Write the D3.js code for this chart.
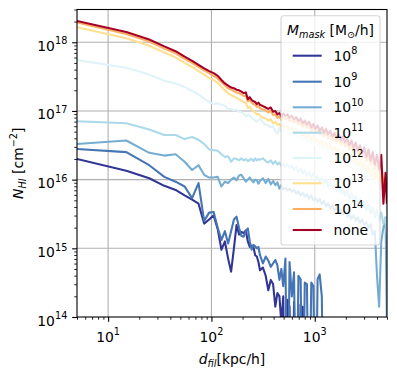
<!DOCTYPE html>
<html>
<head>
<meta charset="utf-8">
<script src="https://cdn.jsdelivr.net/npm/d3@7"></script>
<style>
body{margin:0;background:#fff;}
svg{display:block;font-family:"DejaVu Sans",sans-serif;}
</style>
</head>
<body>
<div id="chart"></div>
<script>
// distance to filament bins [kpc/h]
var dist = [5,15,25,35,45,55,65,75,85,95,105,115,125,135,145,155,165,175,185,195,
    205,215,225,235,245,255,265,275,285,295,
    315,335,355,375,395,415,435,455,475,495,
    520,545,570,600,630,660,695,730,765,800,840,880,925,970,1015,1065,1115,1170,1225,1285,
    1345,1410,1480,1550,1625,1705,1790,1875,1965,2060,2160,2265,2375,2490,2610,2735,2870,3010,
    3155,3310,3470,3640,3815,4000,4195,4400,4615,4840,4995];

// log10 N_HI [cm^-2] for each mask mass, null = empty bin
var nh8 = [16.30,16.13,16.02,15.91,15.85,15.77,15.71,15.65,15.36,15.42,15.48,15.28,14.98,15.10,14.85,14.66,15.00,15.34,15.20,15.24,
    15.22,15.26,15.10,15.02,15.04,15.02,14.90,14.88,14.80,14.68,
    14.72,14.60,14.39,14.54,14.48,14.15,14.35,14.30,13.90,14.30,
    null,14.25,14.15,null,14.22,null,14.18,null,14.15,null];
var nh9 = [16.445,16.40,16.21,16.04,15.97,15.90,15.73,15.95,15.40,15.52,15.53,15.30,15.12,15.25,15.07,15.25,15.42,15.46,15.30,15.18,
    15.17,15.25,15.29,15.10,14.98,15.05,15.03,15.00,15.02,14.90,
    14.78,14.88,14.82,14.73,14.78,14.83,14.75,14.54,14.70,14.45,
    14.85,null,14.80,14.30,14.65,null,14.60,14.55,null,14.50,14.48,null,14.50,14.45,null,14.55,14.62,14.30,null];
var nh10 = [16.52,16.57,16.39,16.35,16.37,16.26,16.14,16.21,16.07,16.03,16.03,16.04,15.90,15.97,15.95,16.00,16.03,15.99,16.06,16.07,
    16.02,15.97,16.00,16.03,15.99,15.96,16.00,15.99,15.94,15.98,
    16.02,15.95,16.01,15.93,15.98,15.92,15.96,15.87,15.92,15.86,
    15.88,15.84,15.87,15.82,15.85,15.80,15.83,15.77,15.81,15.75,15.79,15.72,15.77,15.70,15.74,15.67,15.72,15.64,15.69,15.61,
    15.66,15.58,15.63,15.55,15.60,15.52,15.57,15.49,15.54,15.46,15.51,15.43,15.48,15.40,15.45,15.37,15.42,15.34,
    15.38,15.30,15.35,15.20,15.25,14.60,14.15,15.10,15.30,15.45,13.80];
var nh11 = [16.85,16.82,16.73,16.65,16.65,16.59,16.62,16.58,16.52,16.44,16.43,16.42,16.37,16.33,16.34,16.26,16.31,16.30,16.28,16.31,
    16.28,16.30,16.27,16.29,16.30,16.27,16.31,16.28,16.30,16.29,
    16.31,16.27,16.25,16.28,16.23,16.27,16.22,16.25,16.20,16.23,
    16.19,16.22,16.17,16.20,16.14,16.18,16.12,16.16,16.09,16.14,16.06,16.11,16.03,16.09,16.00,16.06,15.97,16.03,15.94,16.00,
    15.90,15.97,15.87,15.94,15.83,15.91,15.80,15.87,15.76,15.84,15.72,15.80,15.68,15.76,15.64,15.72,15.60,15.68,
    15.55,15.64,15.50,15.60,15.45,15.56,15.40,15.52,15.35,15.45,15.20];
var nh12 = [17.74,17.63,17.53,17.44,17.40,17.35,17.29,17.24,17.18,17.13,17.10,17.11,17.09,17.08,17.02,17.03,17.01,17.02,16.99,16.98,
    16.96,16.92,16.95,16.93,16.90,16.88,16.86,16.84,16.87,16.89,
    16.84,16.80,16.79,16.76,16.78,16.70,16.67,16.75,16.70,16.72,
    16.68,16.71,16.66,16.69,16.63,16.67,16.60,16.64,16.57,16.62,16.55,16.59,16.52,16.57,16.49,16.54,16.46,16.51,16.43,16.48,
    16.40,16.46,16.37,16.43,16.34,16.40,16.31,16.37,16.27,16.34,16.23,16.31,16.19,16.27,16.15,16.24,16.10,16.20,
    16.05,16.16,16.00,16.12,15.94,16.08,15.85,16.02,15.70,15.85,15.50];
var nh13 = [18.22,18.06,17.95,17.85,17.78,17.70,17.64,17.58,17.53,17.48,17.45,17.41,17.35,17.30,17.26,17.23,17.21,17.19,17.17,17.15,
    17.13,17.12,17.04,17.06,17.02,17.00,16.98,16.95,16.96,16.93,
    16.90,16.89,16.86,16.88,16.82,16.84,16.80,16.81,16.76,16.79,
    16.76,16.78,16.73,16.75,16.70,16.73,16.67,16.70,16.64,16.68,16.61,16.65,16.58,16.62,16.55,16.59,16.52,16.56,16.49,16.54,
    16.46,16.51,16.43,16.48,16.40,16.45,16.36,16.42,16.33,16.39,16.29,16.36,16.25,16.32,16.21,16.29,16.17,16.25,
    16.12,16.21,16.07,16.17,16.01,16.12,15.95,16.08,15.80,15.95,15.70];
var nh14 = [18.29,18.12,18.01,17.91,17.84,17.76,17.70,17.64,17.59,17.55,17.51,17.47,17.42,17.37,17.33,17.31,17.29,17.27,17.26,17.24,
    17.22,17.22,17.14,17.16,17.12,17.10,17.09,17.06,17.07,17.04,
    17.02,17.01,16.98,17.00,16.94,16.95,16.90,16.92,16.87,16.91,
    16.88,16.90,16.85,16.87,16.83,16.86,16.80,16.83,16.77,16.81,16.75,16.78,16.71,16.76,16.69,16.73,16.66,16.70,16.63,16.68,
    16.60,16.65,16.57,16.62,16.54,16.60,16.51,16.57,16.48,16.54,16.44,16.51,16.40,16.47,16.36,16.44,16.32,16.40,
    16.27,16.37,16.22,16.33,16.16,16.29,16.10,16.25,15.90,16.05,15.80];
var nhNone = [18.31,18.15,18.04,17.94,17.87,17.79,17.73,17.67,17.62,17.58,17.55,17.51,17.45,17.40,17.37,17.34,17.33,17.31,17.30,17.28,
    17.26,17.27,17.17,17.20,17.16,17.14,17.13,17.10,17.12,17.09,
    17.07,17.05,17.03,17.05,16.99,17.00,16.95,16.97,16.92,16.96,
    16.93,16.95,16.90,16.93,16.88,16.91,16.85,16.89,16.82,16.86,16.80,16.84,16.76,16.81,16.74,16.79,16.71,16.76,16.68,16.74,
    16.66,16.71,16.63,16.68,16.60,16.66,16.57,16.63,16.54,16.60,16.50,16.57,16.46,16.54,16.42,16.50,16.38,16.47,
    16.33,16.44,16.28,16.40,16.22,16.36,16.15,16.36,15.65,16.10,15.65];

var maskLabels = ["8","9","10","11","12","13","14","none"];
var maskColors = ["#313695","#4575b4","#74add1","#abd9e9","#e0f3f8","#fee090","#fdae61","#a50026"];
var maskValues = [nh8, nh9, nh10, nh11, nh12, nh13, nh14, nhNone];

var xMajor = [10, 100, 1000];
var yMajor = [1e14, 1e15, 1e16, 1e17, 1e18];

var W = 397, H = 379;
var box = {left: 77, right: 387, top: 9.5, bottom: 317};
var fs = 13.9, fsSmall = 9.7;

var svg = d3.select("#chart").append("svg")
    .attr("width", W)
    .attr("height", H);

var x = d3.scaleLog().domain([5, 5000]).range([box.left, box.right]);
var y = d3.scaleLog().domain([1e14, 3e18]).range([box.bottom, box.top]);

//grid
svg.append("g").selectAll("line").data(xMajor).enter().append("line")
    .attr("x1", function(d){return x(d);}).attr("x2", function(d){return x(d);})
    .attr("y1", box.top).attr("y2", box.bottom)
    .attr("stroke", "#b0b0b0").attr("stroke-width", 1.1);
svg.append("g").selectAll("line").data(yMajor.slice(1)).enter().append("line")
    .attr("y1", function(d){return y(d);}).attr("y2", function(d){return y(d);})
    .attr("x1", box.left).attr("x2", box.right)
    .attr("stroke", "#b0b0b0").attr("stroke-width", 1.1);

svg.append("clipPath").attr("id", "clip").append("rect")
    .attr("x", box.left).attr("y", box.top)
    .attr("width", box.right - box.left).attr("height", box.bottom - box.top);

var line = d3.line()
    .x(function(d, i){return x(dist[i]);})
    .y(function(d){return y(d == null ? 1e12 : Math.pow(10, d));});

var lines = svg.append("g").attr("clip-path", "url(#clip)");
maskValues.forEach(function(vals, k){
    lines.append("path")
        .attr("d", line(vals))
        .attr("fill", "none")
        .attr("stroke", maskColors[k])
        .attr("stroke-width", 2.08)
        .attr("stroke-linejoin", "round");
});

//axes ticks
var xMinor = x.ticks().filter(function(d){return xMajor.indexOf(d) < 0;});
var yMinor = y.ticks().filter(function(d){return yMajor.indexOf(d) < 0;});

function tickAxis(axis, vals, size, width, tr){
    var g = svg.append("g").attr("transform", tr)
        .call(axis.tickValues(vals).tickSize(size).tickSizeOuter(0).tickFormat(""));
    g.select(".domain").remove();
    g.selectAll("line").attr("stroke", "#000").attr("stroke-width", width);
}
tickAxis(d3.axisBottom(x), xMajor, 4.86, 1.1, "translate(0," + box.bottom + ")");
tickAxis(d3.axisBottom(x), xMinor, 2.78, 0.83, "translate(0," + box.bottom + ")");
tickAxis(d3.axisLeft(y), yMajor, 4.86, 1.1, "translate(" + box.left + ",0)");
tickAxis(d3.axisLeft(y), yMinor, 2.78, 0.83, "translate(" + box.left + ",0)");

svg.append("rect")
    .attr("x", box.left).attr("y", box.top)
    .attr("width", box.right - box.left).attr("height", box.bottom - box.top)
    .attr("fill", "none").attr("stroke", "#000").attr("stroke-width", 1.1);

function powText(px, py, exp, anchor){
    var t = svg.append("text")
        .attr("x", px).attr("y", py)
        .attr("text-anchor", anchor)
        .attr("font-size", fs).attr("fill", "#000");
    t.append("tspan").text("10");
    t.append("tspan").attr("font-size", fsSmall).attr("dy", -6.3).text(exp);
    return t;
}

xMajor.forEach(function(d){
    powText(x(d), 341.7, Math.round(Math.log10(d)), "middle");
});
yMajor.forEach(function(d){
    powText(67.3, y(d) + 8.5, Math.round(Math.log10(d)), "end");
});

//axis labels
var xl = svg.append("text")
    .attr("x", (box.left + box.right) / 2).attr("y", 364)
    .attr("text-anchor", "middle").attr("font-size", fs);
xl.append("tspan").attr("font-style", "italic").text("d");
xl.append("tspan").attr("font-style", "italic").attr("font-size", fsSmall).attr("dy", 3).text("fil");
xl.append("tspan").attr("dy", -3).text("[kpc/h]");

var yl = svg.append("text")
    .attr("transform", "translate(23," + ((box.top + box.bottom) / 2) + ") rotate(-90)")
    .attr("text-anchor", "middle").attr("font-size", fs);
yl.append("tspan").attr("font-style", "italic").text("N");
yl.append("tspan").attr("font-style", "italic").attr("font-size", fsSmall).attr("dy", 3).text("HI");
yl.append("tspan").attr("dy", -3).text(" [cm");
yl.append("tspan").attr("font-size", fsSmall).attr("dy", -6.3).text("\u22122");
yl.append("tspan").attr("dy", 6.3).text("]");

//legend
var leg = svg.append("g");
leg.append("rect")
    .attr("x", 281).attr("y", 15.7)
    .attr("width", 99).attr("height", 229.3)
    .attr("rx", 2.8)
    .attr("fill", "rgba(255,255,255,0.8)")
    .attr("stroke", "rgba(204,204,204,0.8)")
    .attr("stroke-width", 1.1);

var lt = leg.append("text")
    .attr("x", 330.5).attr("y", 35)
    .attr("text-anchor", "middle").attr("font-size", fs);
lt.append("tspan").attr("font-style", "italic").text("M");
lt.append("tspan").attr("font-style", "italic").attr("font-size", fsSmall).attr("dy", 3).text("mask");
lt.append("tspan").attr("dy", -3).text(" [M");
lt.append("tspan").attr("font-size", fsSmall).attr("dy", 3).text("\u2299");
lt.append("tspan").attr("dy", -3).text("/h]");

var rowY = [55.7, 81.7, 107.3, 132.7, 158, 183.3, 209, 230];
maskLabels.forEach(function(lab, k){
    leg.append("line")
        .attr("x1", 292.7).attr("x2", 321.7)
        .attr("y1", rowY[k]).attr("y2", rowY[k])
        .attr("stroke", maskColors[k]).attr("stroke-width", 2.08);
    if (lab == "none"){
        leg.append("text").attr("x", 333.5).attr("y", rowY[k] + 4.9)
            .attr("font-size", fs).text("none");
    }
    else {
        powText(333.5, rowY[k] + 4.9, lab, "start");
    }
});
</script>
</body>
</html>
